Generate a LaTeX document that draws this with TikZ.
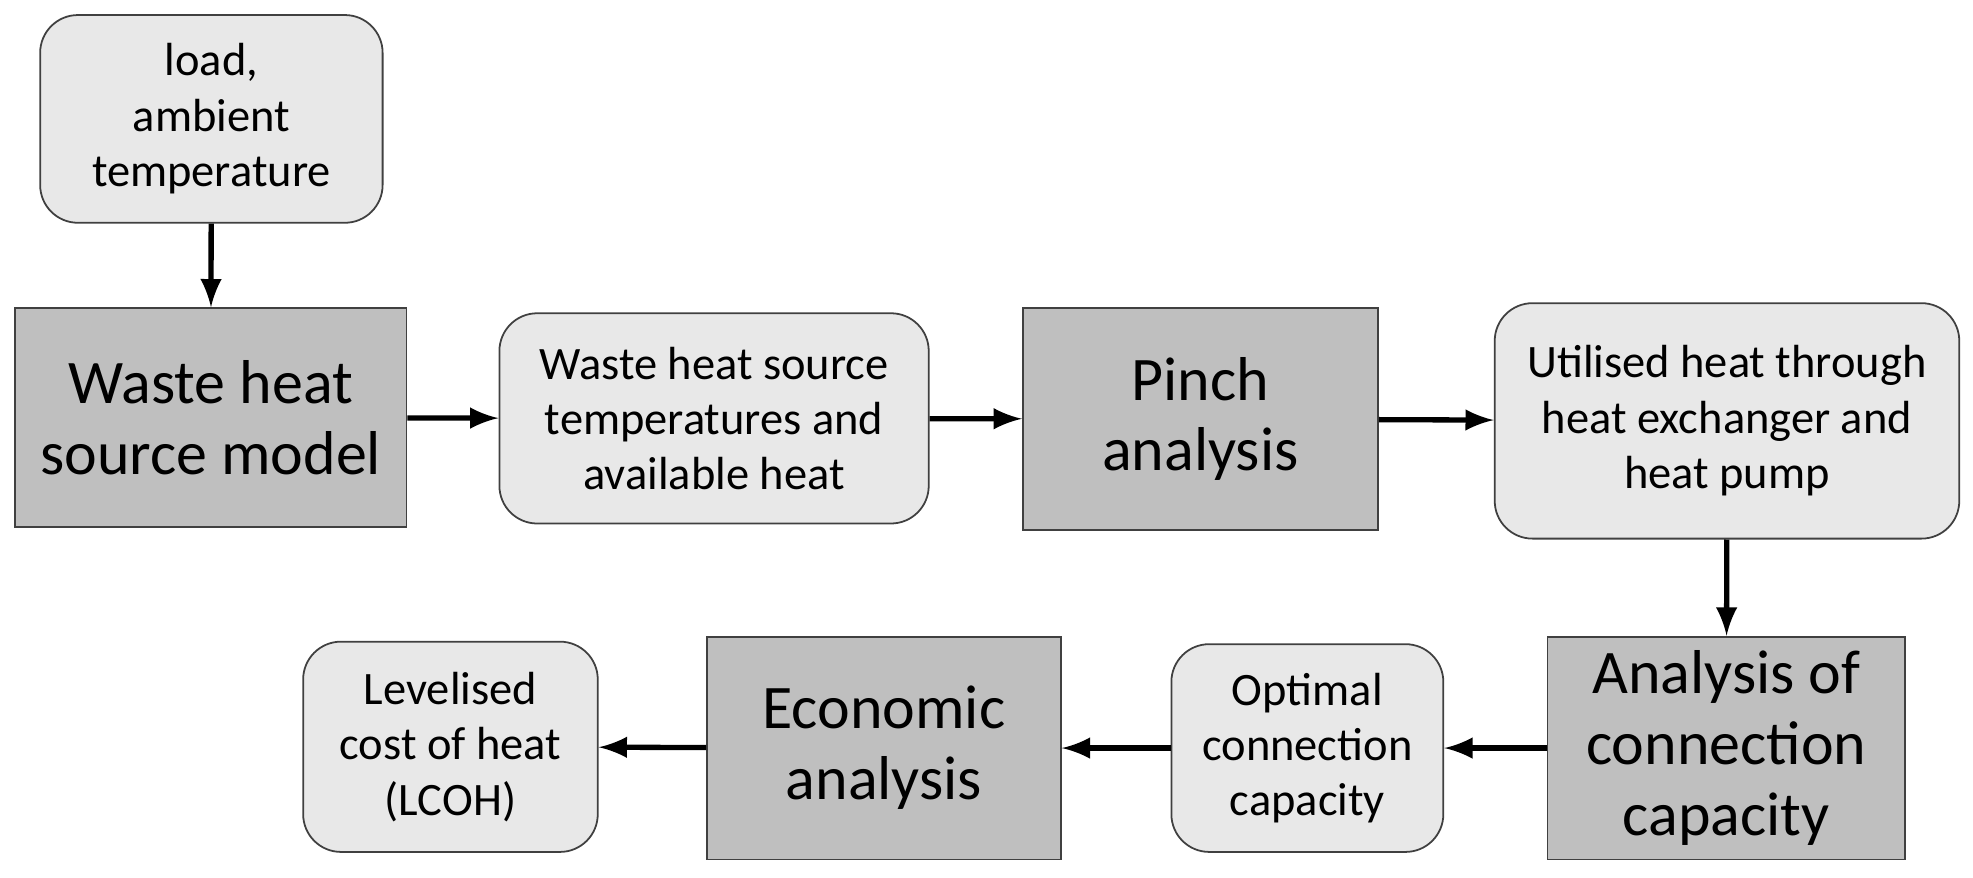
\documentclass[tikz,border=0pt]{standalone}
\usepackage{fontspec}
\setmainfont{Carlito}
\usetikzlibrary{positioning}
\definecolor{lightbox}{RGB}{232,232,232}
\definecolor{darkbox}{RGB}{191,191,191}
\definecolor{edge}{RGB}{64,64,64}
\begin{document}
\begin{tikzpicture}[x=0.01cm,y=-0.01cm]
    %styles
    \tikzstyle{result}=[rectangle,rounded corners=0.3cm,draw=edge,fill=lightbox,align=center,font=\fontsize{10.5}{12.5}\selectfont,inner sep=0pt]
    \tikzstyle{model}=[rectangle,draw=edge,fill=darkbox,align=center,font=\fontsize{14}{16}\selectfont,inner sep=0pt]
    \tikzstyle{flow}=[->,>=latex,very thick]
    \useasboundingbox (0,0) rectangle (1568,697);
    %nodes
    \node[result,minimum width=2.72cm,minimum height=1.65cm] (load) at (168,94.5) {load,\\ambient\\temperature};
    \node[model,minimum width=3.11cm,minimum height=1.74cm] (whm) at (167.5,332) {Waste heat\\source model};
    \node[result,minimum width=3.41cm,minimum height=1.67cm] (wht) at (567.5,332.5) {Waste heat source\\temperatures and\\available heat};
    \node[model,minimum width=2.82cm,minimum height=1.76cm] (pinch) at (954,333) {Pinch\\analysis};
    \node[result,minimum width=3.69cm,minimum height=1.87cm] (util) at (1372.5,334.5) {Utilised heat through\\heat exchanger and\\heat pump};
    \node[model,minimum width=2.84cm,minimum height=1.77cm] (conn) at (1372,594.5) {Analysis of\\connection\\capacity};
    \node[result,minimum width=2.16cm,minimum height=1.65cm] (opt) at (1039,594.5) {Optimal\\connection\\capacity};
    \node[model,minimum width=2.81cm,minimum height=1.77cm] (eco) at (702.5,594.5) {Economic\\analysis};
    \node[result,minimum width=2.34cm,minimum height=1.67cm] (lcoh) at (358,593.5) {Levelised\\cost of heat\\(LCOH)};
    %arrows
    \draw[flow] (load)--(whm);
    \draw[flow] (whm)--(wht);
    \draw[flow] (wht)--(pinch);
    \draw[flow] (pinch)--(util);
    \draw[flow] (util)--(conn);
    \draw[flow] (conn)--(opt);
    \draw[flow] (opt)--(eco);
    \draw[flow] (eco)--(lcoh);
\end{tikzpicture}
\end{document}
